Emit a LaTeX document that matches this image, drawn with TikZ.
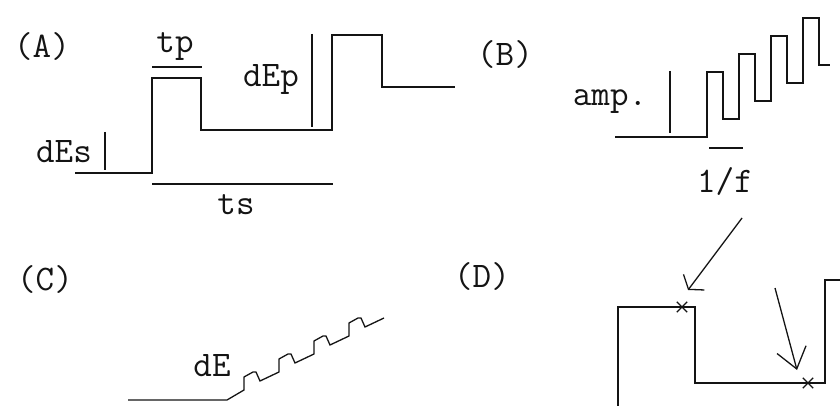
\documentclass[tikz,border=0pt]{standalone}
\usepackage{tikz}
\usepackage{xcolor}
\usetikzlibrary{arrows.meta, shapes.misc}
\definecolor{inkDark}{RGB}{20,20,20}

\begin{document}
\begin{tikzpicture}[x=1pt, y=-1pt,
    wave/.style={inkDark, line width=1.6pt},
    marker/.style={inkDark, line width=1.6pt},
    lbl/.style={inkDark, inner sep=0pt, font=\ttfamily\fontsize{36}{40}\selectfont},
    pin/.style={inkDark, line width=1.3pt}]
        \useasboundingbox (0,0) rectangle (840,406);
        % (A) staircase with pulse
        \node[lbl] (pa) at (42,47) {(A)};
        \draw[wave] (75,173) -- (152,173) -- (152,78) -- (201,78) -- (201,130)
          -- (332,130) -- (332,35) -- (382,35) -- (382,87) -- (455,87);
        \node[lbl] (des) at (64,152) {dEs};
        \draw[marker] (105,132) -- (105,170);
        \node[lbl] (tp) at (175,47) {tp};
        \draw[marker] (152,67) -- (202,67);
        \node[lbl] (dep) at (271,79) {dEp};
        \draw[marker] (312,34) -- (312,127);
        \node[lbl] (ts) at (236,205) {ts};
        \draw[marker] (152,184) -- (333,184);
        % (B) square wave on a ramp
        \node[lbl] (pb) at (505,55) {(B)};
        \draw[wave] (615,137) -- (707,137)
          \foreach \i in {1,...,3} { -- ++(0,-65) -- ++(16,0) -- ++(0,47) -- ++(16,0) }
          -- ++(0,-65) -- ++(16,0) -- ++(0,47) -- ++(11,0);
        \node[lbl] (amp) at (610,102) {amp.};
        \draw[marker] (670,71) -- (670,133);
        \draw[marker] (709,148) -- (743,148);
        \node[lbl] (freq) at (725,182) {1/f};
        % (C) small steps
        \node[lbl] (pc) at (45,280) {(C)};
        \draw[wave, line width=1.3pt] (128,400) -- (227,400) -- (244,390)
          \foreach \i in {1,...,4} { -- ++(0,-13) -- ++(9,-5) -- ++(3,0) -- ++(4,9) -- ++(19,-9) };
        \node[lbl] (de) at (212,366) {dE};
        % (D) sampling points
        \node[lbl] (pd) at (482,277) {(D)};
        \draw[wave] (618,406) -- (618,307) -- (695,307) -- (695,383)
          -- (825,383) -- (825,280) -- (840,280);
        \node[cross out, draw, pin, minimum size=9pt, inner sep=0pt] (xa) at (682,307) {};
        \node[cross out, draw, pin, minimum size=9pt, inner sep=0pt] (xb) at (808,383) {};
        \coordinate (taila) at (742,218);
        \coordinate (tipa) at (688,290);
        \coordinate (tailb) at (775,288);
        \coordinate (tipb) at (797,370);
        \draw[pin, -{Straight Barb[length=9pt, width=26pt]}] (taila) -- (tipa);
        \draw[pin, -{Straight Barb[length=20pt, width=30pt]}] (tailb) -- (tipb);
      \end{tikzpicture}
\end{document}
